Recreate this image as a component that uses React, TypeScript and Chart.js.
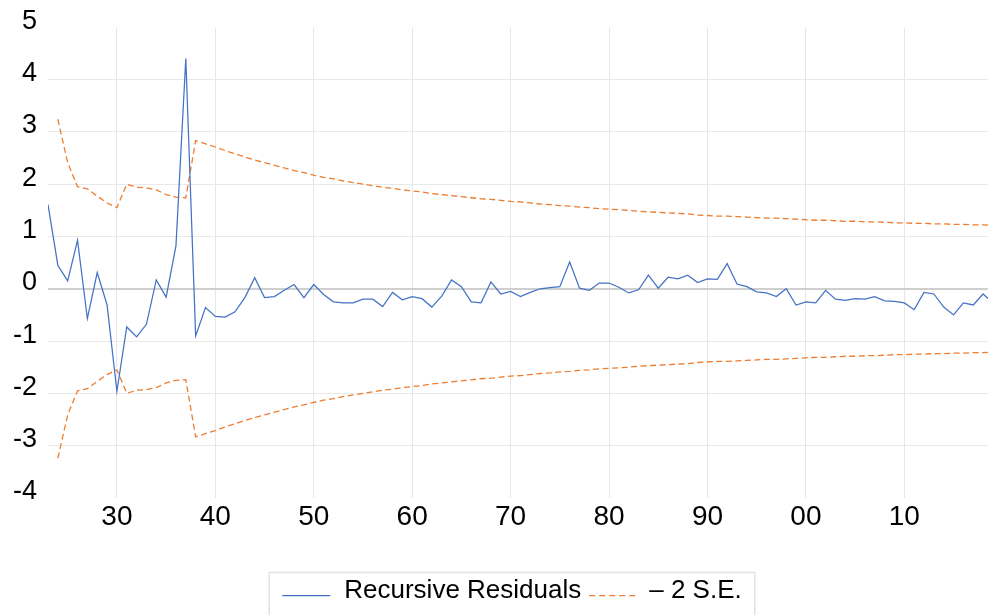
import React, { useEffect, useRef } from "react";
import { Chart, registerables } from "chart.js";

Chart.register(...registerables);

const years = [
  1923, 1924, 1925, 1926, 1927, 1928, 1929, 1930, 1931, 1932, 1933, 1934, 1935, 1936, 1937, 1938, 1939,
  1940, 1941, 1942, 1943, 1944, 1945, 1946, 1947, 1948, 1949, 1950, 1951, 1952, 1953, 1954, 1955, 1956,
  1957, 1958, 1959, 1960, 1961, 1962, 1963, 1964, 1965, 1966, 1967, 1968, 1969, 1970, 1971, 1972, 1973,
  1974, 1975, 1976, 1977, 1978, 1979, 1980, 1981, 1982, 1983, 1984, 1985, 1986, 1987, 1988, 1989, 1990,
  1991, 1992, 1993, 1994, 1995, 1996, 1997, 1998, 1999, 2000, 2001, 2002, 2003, 2004, 2005, 2006, 2007,
  2008, 2009, 2010, 2011, 2012, 2013, 2014, 2015, 2016, 2017, 2018, 2019,
];

const residuals = [
  1.61, 0.45, 0.15, 0.93, -0.57, 0.31, -0.31, -1.96, -0.73, -0.92, -0.68, 0.17, -0.16, 0.82, 4.4, -0.9, -0.36,
  -0.53, -0.54, -0.44, -0.17, 0.21, -0.17, -0.15, -0.03, 0.08, -0.17, 0.08, -0.11, -0.25, -0.27, -0.27, -0.2, -0.2,
  -0.34, -0.07, -0.21, -0.15, -0.19, -0.35, -0.14, 0.17, 0.04, -0.25, -0.27, 0.13, -0.1, -0.05, -0.15, -0.07, 0.0,
  0.02, 0.04, 0.51, 0.01, -0.03, 0.11, 0.11, 0.03, -0.08, -0.02, 0.26, 0.01, 0.22, 0.19, 0.26, 0.12, 0.19,
  0.18, 0.48, 0.09, 0.04, -0.06, -0.08, -0.15, 0.0, -0.31, -0.25, -0.27, -0.03, -0.2, -0.22, -0.19, -0.2, -0.15,
  -0.23, -0.24, -0.27, -0.4, -0.07, -0.1, -0.35, -0.5, -0.27, -0.31, -0.1, -0.27,
];

const upperSE = [
  null, 3.24, 2.41, 1.95, 1.91, 1.77, 1.64, 1.55, 2.0, 1.94, 1.93, 1.89, 1.8, 1.75, 1.74, 2.83, 2.77,
  2.71, 2.64, 2.58, 2.52, 2.46, 2.41, 2.36, 2.31, 2.26, 2.22, 2.17, 2.13, 2.1, 2.06, 2.03, 2.0, 1.97,
  1.94, 1.92, 1.89, 1.87, 1.85, 1.82, 1.8, 1.78, 1.76, 1.74, 1.72, 1.71, 1.69, 1.67, 1.66, 1.64, 1.62,
  1.61, 1.59, 1.58, 1.56, 1.55, 1.53, 1.52, 1.51, 1.5, 1.48, 1.47, 1.46, 1.45, 1.44, 1.43, 1.41, 1.4,
  1.39, 1.39, 1.38, 1.37, 1.36, 1.35, 1.35, 1.34, 1.33, 1.32, 1.31, 1.31, 1.3, 1.29, 1.29, 1.28, 1.28,
  1.27, 1.26, 1.26, 1.25, 1.25, 1.24, 1.24, 1.23, 1.23, 1.22, 1.22, 1.21,
];

const lowerSE = [
  null, -3.24, -2.41, -1.95, -1.91, -1.77, -1.64, -1.55, -2.0, -1.94, -1.93, -1.89, -1.8, -1.75, -1.74, -2.83, -2.77,
  -2.71, -2.64, -2.58, -2.52, -2.46, -2.41, -2.36, -2.31, -2.26, -2.22, -2.17, -2.13, -2.1, -2.06, -2.03, -2.0, -1.97,
  -1.94, -1.92, -1.89, -1.87, -1.85, -1.82, -1.8, -1.78, -1.76, -1.74, -1.72, -1.71, -1.69, -1.67, -1.66, -1.64, -1.62,
  -1.61, -1.59, -1.58, -1.56, -1.55, -1.53, -1.52, -1.51, -1.5, -1.48, -1.47, -1.46, -1.45, -1.44, -1.43, -1.41, -1.4,
  -1.39, -1.39, -1.38, -1.37, -1.36, -1.35, -1.35, -1.34, -1.33, -1.32, -1.31, -1.31, -1.3, -1.29, -1.29, -1.28, -1.28,
  -1.27, -1.26, -1.26, -1.25, -1.25, -1.24, -1.24, -1.23, -1.23, -1.22, -1.22, -1.21,
];

const xTickYears = [1930, 1940, 1950, 1960, 1970, 1980, 1990, 2000, 2010];
const yTickValues = [-4, -3, -2, -1, 0, 1, 2, 3, 4, 5];
const seriesLabels = ["Recursive Residuals", "\u2013 2 S.E."];

const BLUE = "#4472C4";
const ORANGE = "#ED7D31";
const FONT = '"Liberation Sans", Arial, Helvetica, sans-serif';
const DASH = [6, 3.5];

const toPoints = (vals: (number | null)[]) =>
  years.map((yr, i) => ({ x: yr, y: vals[i] as number | null }));

const boxedLegend = {
  id: "boxedLegend",
  afterDraw(chart: any) {
    const ctx = chart.ctx as CanvasRenderingContext2D;
    const cx = 512;
    const sample = 48;
    const gSampleText = 14;
    const gItems = 8;
    const gSampleText2 = 12;
    ctx.save();
    ctx.font = `26px ${FONT}`;
    const w1 = ctx.measureText(seriesLabels[0]).width;
    const w2 = ctx.measureText(seriesLabels[1]).width;
    const total = sample + gSampleText + w1 + gItems + sample + gSampleText2 + w2;
    const start = cx - total / 2;
    const boxTop = 572.5;
    ctx.strokeStyle = "#e2e2e2";
    ctx.lineWidth = 1.5;
    ctx.strokeRect(start - 13, boxTop, total + 26, 80);
    const lineY = 595.5;
    const baseY = 598;
    ctx.strokeStyle = BLUE;
    ctx.lineWidth = 1.25;
    ctx.setLineDash([]);
    ctx.beginPath();
    ctx.moveTo(start, lineY);
    ctx.lineTo(start + sample, lineY);
    ctx.stroke();
    ctx.fillStyle = "#000";
    ctx.textBaseline = "alphabetic";
    ctx.textAlign = "left";
    const t1 = start + sample + gSampleText;
    ctx.fillText(seriesLabels[0], t1, baseY);
    const s2 = t1 + w1 + gItems;
    ctx.strokeStyle = ORANGE;
    ctx.lineWidth = 1.25;
    ctx.setLineDash([6, 4]);
    ctx.beginPath();
    ctx.moveTo(s2, lineY);
    ctx.lineTo(s2 + sample, lineY);
    ctx.stroke();
    ctx.setLineDash([]);
    ctx.fillText(seriesLabels[1], s2 + sample + gSampleText2, baseY);
    ctx.restore();
  },
};

export default function App() {
  const canvasRef = useRef<HTMLCanvasElement | null>(null);

  useEffect(() => {
    if (!canvasRef.current) return;
    const chart = new Chart(canvasRef.current, {
      type: "line",
      data: {
        datasets: [
          {
            label: seriesLabels[0],
            data: toPoints(residuals),
            borderColor: BLUE,
            backgroundColor: BLUE,
            borderWidth: 1.25,
            pointRadius: 0,
            tension: 0,
            fill: false,
          },
          {
            label: seriesLabels[1],
            data: toPoints(upperSE),
            borderColor: ORANGE,
            backgroundColor: ORANGE,
            borderWidth: 1.3,
            borderDash: DASH,
            pointRadius: 0,
            tension: 0,
            fill: false,
          },
          {
            label: "lower",
            data: toPoints(lowerSE),
            borderColor: ORANGE,
            backgroundColor: ORANGE,
            borderWidth: 1.3,
            borderDash: DASH,
            pointRadius: 0,
            tension: 0,
            fill: false,
          },
        ],
      },
      options: {
        responsive: false,
        animation: false,
        layout: { padding: { left: 0, right: 0, top: 26, bottom: 77 } },
        plugins: {
          legend: { display: false },
          tooltip: { enabled: false },
        },
        scales: {
          x: {
            type: "linear",
            min: 1923,
            max: 2018.5,
            afterBuildTicks: (s: any) => {
              s.ticks = xTickYears.map((v) => ({ value: v }));
            },
            afterFit: (s: any) => {
              s.height = 40;
            },
            ticks: {
              autoSkip: false,
              maxRotation: 0,
              padding: 2,
              color: "#000",
              font: { family: FONT, size: 28 },
              callback: (v: any) => String(Number(v) % 100).padStart(2, "0"),
            },
            grid: { color: "#e6e6e6", lineWidth: 1, drawTicks: false },
            border: { display: false },
          },
          y: {
            type: "linear",
            min: -4,
            max: 5,
            afterBuildTicks: (s: any) => {
              s.ticks = yTickValues.map((v) => ({ value: v }));
            },
            afterFit: (s: any) => {
              s.width = 48;
            },
            ticks: {
              padding: 11,
              labelOffset: -6,
              color: "#000",
              font: { family: FONT, size: 27 },
            },
            grid: {
              drawTicks: false,
              color: (c: any) => {
                const v = c.tick ? c.tick.value : null;
                if (v === 5 || v === -4) return "rgba(0,0,0,0)";
                if (v === 0) return "#cfcfcf";
                return "#e8e8e8";
              },
              lineWidth: (c: any) => (c.tick && c.tick.value === 0 ? 2 : 1),
            },
            border: { display: false },
          },
        },
      },
      plugins: [boxedLegend],
    } as any);
    return () => chart.destroy();
  }, []);

  return (
    <div style={{ position: "fixed", left: 0, top: 0, width: 988, height: 615, background: "#fff" }}>
      <canvas ref={canvasRef} width={988} height={615} style={{ display: "block" }} />
    </div>
  );
}
